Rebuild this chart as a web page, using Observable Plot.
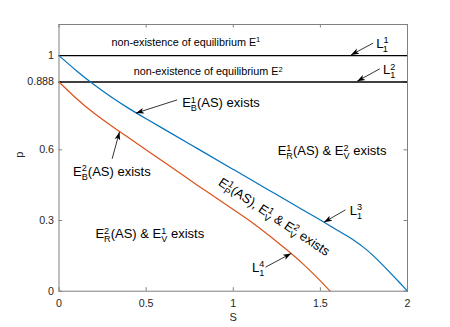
<!DOCTYPE html>
<html><head><meta charset="utf-8">
<script src="https://cdn.jsdelivr.net/npm/d3@7"></script>
<script src="https://cdn.jsdelivr.net/npm/@observablehq/plot@0.6"></script>
<style>body{margin:0;background:#fff}</style>
</head><body><div id="chart"></div>
<script>
// ---- data ----
const blueS = [0, 0.1, 0.2, 0.3, 0.4, 0.5, 0.6, 0.8, 1.0, 1.2, 1.4, 1.5, 1.6, 1.65, 1.7, 1.75, 1.8, 1.85, 1.9, 1.95, 2];
const blueP = [1, 0.936, 0.877, 0.824, 0.776, 0.732, 0.689, 0.603, 0.517, 0.431, 0.345, 0.302, 0.258, 0.236, 0.212, 0.185, 0.153, 0.117, 0.079, 0.040, 0];
const orangeS = [0, 0.1, 0.2, 0.3, 0.4, 0.6, 0.8, 1.0, 1.1, 1.2, 1.3, 1.4, 1.5, 1.556];
const orangeP = [0.888, 0.818, 0.756, 0.702, 0.651, 0.549, 0.447, 0.347, 0.296, 0.240, 0.180, 0.116, 0.044, 0];
const boundaryP = [1, 0.888];
const xTicks = [0, 0.5, 1, 1.5, 2];
const xTickLabels = ["0", "0.5", "1", "1.5", "2"];
const yTicks = [0, 0.3, 0.6, 0.888, 1];
const yTickLabels = ["0", "0.3", "0.6", "0.888", "1"];

const noteText = ["non-existence of equilibrium E^1", "non-existence of equilibrium E^2"];
const noteS = [0.301, 0.429];
const noteP = [1.04, 0.916];

const regionText = ["E_B^1(AS) exists", "E_B^2(AS) exists", "E_R^1(AS) & E_V^2 exists", "E_R^2(AS) & E_V^1 exists"];
const regionS = [0.707, 0.081, 1.255, 0.209];
const regionP = [0.781, 0.489, 0.576, 0.224];

const lineText = ["L_1^1", "L_1^2", "L_1^3", "L_1^4"];
const lineS = [1.821, 1.86, 1.668, 1.108];
const lineP = [1.033, 0.92, 0.323, 0.081];

const bandText = ["E_P^1(AS), E_V^1 & E_V^2 exists"];
const bandS = [1.235];
const bandP = [0.315];

const arrowFromS = [1.803, 1.841, 0.678, 0.305, 1.644, 1.185];
const arrowFromP = [1.053, 0.944, 0.812, 0.562, 0.345, 0.102];
const arrowToS = [1.676, 1.711, 0.442, 0.347, 1.521, 1.332];
const arrowToP = [1.003, 0.891, 0.756, 0.676, 0.293, 0.160];

// ---- tables ----
const blue = blueS.map((s, i) => ({s, p: blueP[i]}));
const orange = orangeS.map((s, i) => ({s, p: orangeP[i]}));
const notes = noteText.map((t, i) => ({t, s: noteS[i], p: noteP[i]}));
const regions = regionText.map((t, i) => ({t, s: regionS[i], p: regionP[i]}));
const lines = lineText.map((t, i) => ({t, s: lineS[i], p: lineP[i]}));
const band = bandText.map((t, i) => ({t, s: bandS[i], p: bandP[i]}));
const arrows = arrowFromS.map((s, i) => ({s1: s, p1: arrowFromP[i], s2: arrowToS[i], p2: arrowToP[i]}));

const frameGray = "#808080";
const W = 450, H = 327, ML = 58.5, MR = 43, MT = 24, MB = 36.3;
const FW = W - ML - MR, FH = H - MT - MB, TK = 3.5;

const plot = Plot.plot({
  width: W, height: H,
  marginLeft: ML, marginRight: MR, marginTop: MT, marginBottom: MB,
  style: {fontFamily: "'Liberation Sans', Arial, Helvetica, sans-serif", fontSize: "10.7px", color: "#262626", background: "white"},
  x: {domain: [0, 2], label: null},
  y: {domain: [0, 1.132], label: null},
  marks: [
    Plot.axisX({ticks: xTicks, tickFormat: d => xTickLabels[xTicks.indexOf(d)], tickSize: 0, tickPadding: 8.5, label: null}),
    Plot.axisY({ticks: yTicks, tickFormat: d => yTickLabels[yTicks.indexOf(d)], tickSize: 0, tickPadding: 5, label: null}),
    Plot.tickX(xTicks, {x: d => d, insetTop: FH - TK, stroke: frameGray, strokeWidth: 1}),
    Plot.tickX(xTicks, {x: d => d, insetBottom: FH - TK, stroke: frameGray, strokeWidth: 1}),
    Plot.tickY(yTicks, {y: d => d, insetRight: FW - TK, stroke: frameGray, strokeWidth: 1}),
    Plot.tickY(yTicks, {y: d => d, insetLeft: FW - TK, stroke: frameGray, strokeWidth: 1}),
    Plot.ruleY(boundaryP, {y: d => d, stroke: "#000", strokeWidth: 1.3}),
    Plot.line(blue, {x: "s", y: "p", stroke: "#0072BD", strokeWidth: 1.2, curve: "natural"}),
    Plot.line(orange, {x: "s", y: "p", stroke: "#D95319", strokeWidth: 1.2, curve: "natural"}),
    Plot.link(arrows, {x1: "s1", y1: "p1", x2: "s2", y2: "p2", stroke: "#000", strokeWidth: 0.8}),
    Plot.text(notes, {x: "s", y: "p", text: "t", textAnchor: "start", lineAnchor: "bottom", fontSize: 10.8, fill: "#000"}),
    Plot.text(regions, {x: "s", y: "p", text: "t", textAnchor: "start", lineAnchor: "bottom", fontSize: 13, fill: "#000"}),
    Plot.text(lines, {x: "s", y: "p", text: "t", textAnchor: "start", lineAnchor: "bottom", fontSize: 13, fill: "#000"}),
    Plot.text(band, {x: "s", y: "p", text: "t", textAnchor: "middle", lineAnchor: "middle", rotate: 33.5, fontSize: 13, fill: "#000"}),
    Plot.text(["S"], {frameAnchor: "bottom", dy: 26, lineAnchor: "middle", fontSize: 11, fill: "#262626"}),
    Plot.text(["p"], {frameAnchor: "left", dx: -39.5, rotate: -90, lineAnchor: "middle", fontSize: 11, fill: "#262626"}),
    Plot.frame({stroke: frameGray, strokeWidth: 1})
  ]
});

document.getElementById("chart").append(plot);

// ---- arrow heads ----
const svg = d3.select(plot);
const defs = svg.append("defs");
defs.append("marker").attr("id", "ah").attr("viewBox", "0 -5 10 10")
  .attr("refX", 10).attr("refY", 0).attr("markerWidth", 8).attr("markerHeight", 8)
  .attr("markerUnits", "userSpaceOnUse").attr("orient", "auto")
  .append("path").attr("d", "M0,-3.6L10,0L0,3.6L2.5,0Z").attr("fill", "#000").attr("stroke", "none");
svg.selectAll('g[aria-label="link"] path').attr("marker-end", "url(#ah)");

// ---- sub/superscripts ----
function richify(el) {
  const s = el.textContent;
  if (!/[_^]/.test(s)) return;
  const fs = parseFloat(getComputedStyle(el).fontSize) || 12;
  const r = 0.7, up = 0.36 * fs, down = 0.3 * fs;
  el.textContent = "";
  let cur = 0, buf = "";
  const add = (txt, off, small, dx) => {
    const t = document.createElementNS("http://www.w3.org/2000/svg", "tspan");
    t.textContent = txt;
    const dy = off - cur;
    if (dy) t.setAttribute("dy", dy);
    if (dx) t.setAttribute("dx", dx);
    if (small) t.setAttribute("font-size", r * fs);
    cur = off;
    el.appendChild(t);
    return t;
  };
  const flush = () => { if (buf) { add(buf, 0, false); buf = ""; } };
  let i = 0;
  while (i < s.length) {
    const c = s[i];
    if (c === "_") {
      flush();
      const sub = s[i + 1]; i += 2;
      let sup = null;
      if (s[i] === "^") { sup = s[i + 1]; i += 2; }
      if (sup) {
        const t1 = add(sup, -up, true);
        let w = 0;
        try { w = t1.getComputedTextLength(); } catch (e) {}
        if (!w) w = 0.556 * r * fs;
        add(sub, down, true, -w);
      } else add(sub, down, true);
    } else if (c === "^") {
      flush();
      add(s[i + 1], -up, true); i += 2;
    } else { buf += c; i++; }
  }
  flush();
}
svg.selectAll('g[aria-label="text"] text').each(function () { richify(this); });
</script>
</body></html>
